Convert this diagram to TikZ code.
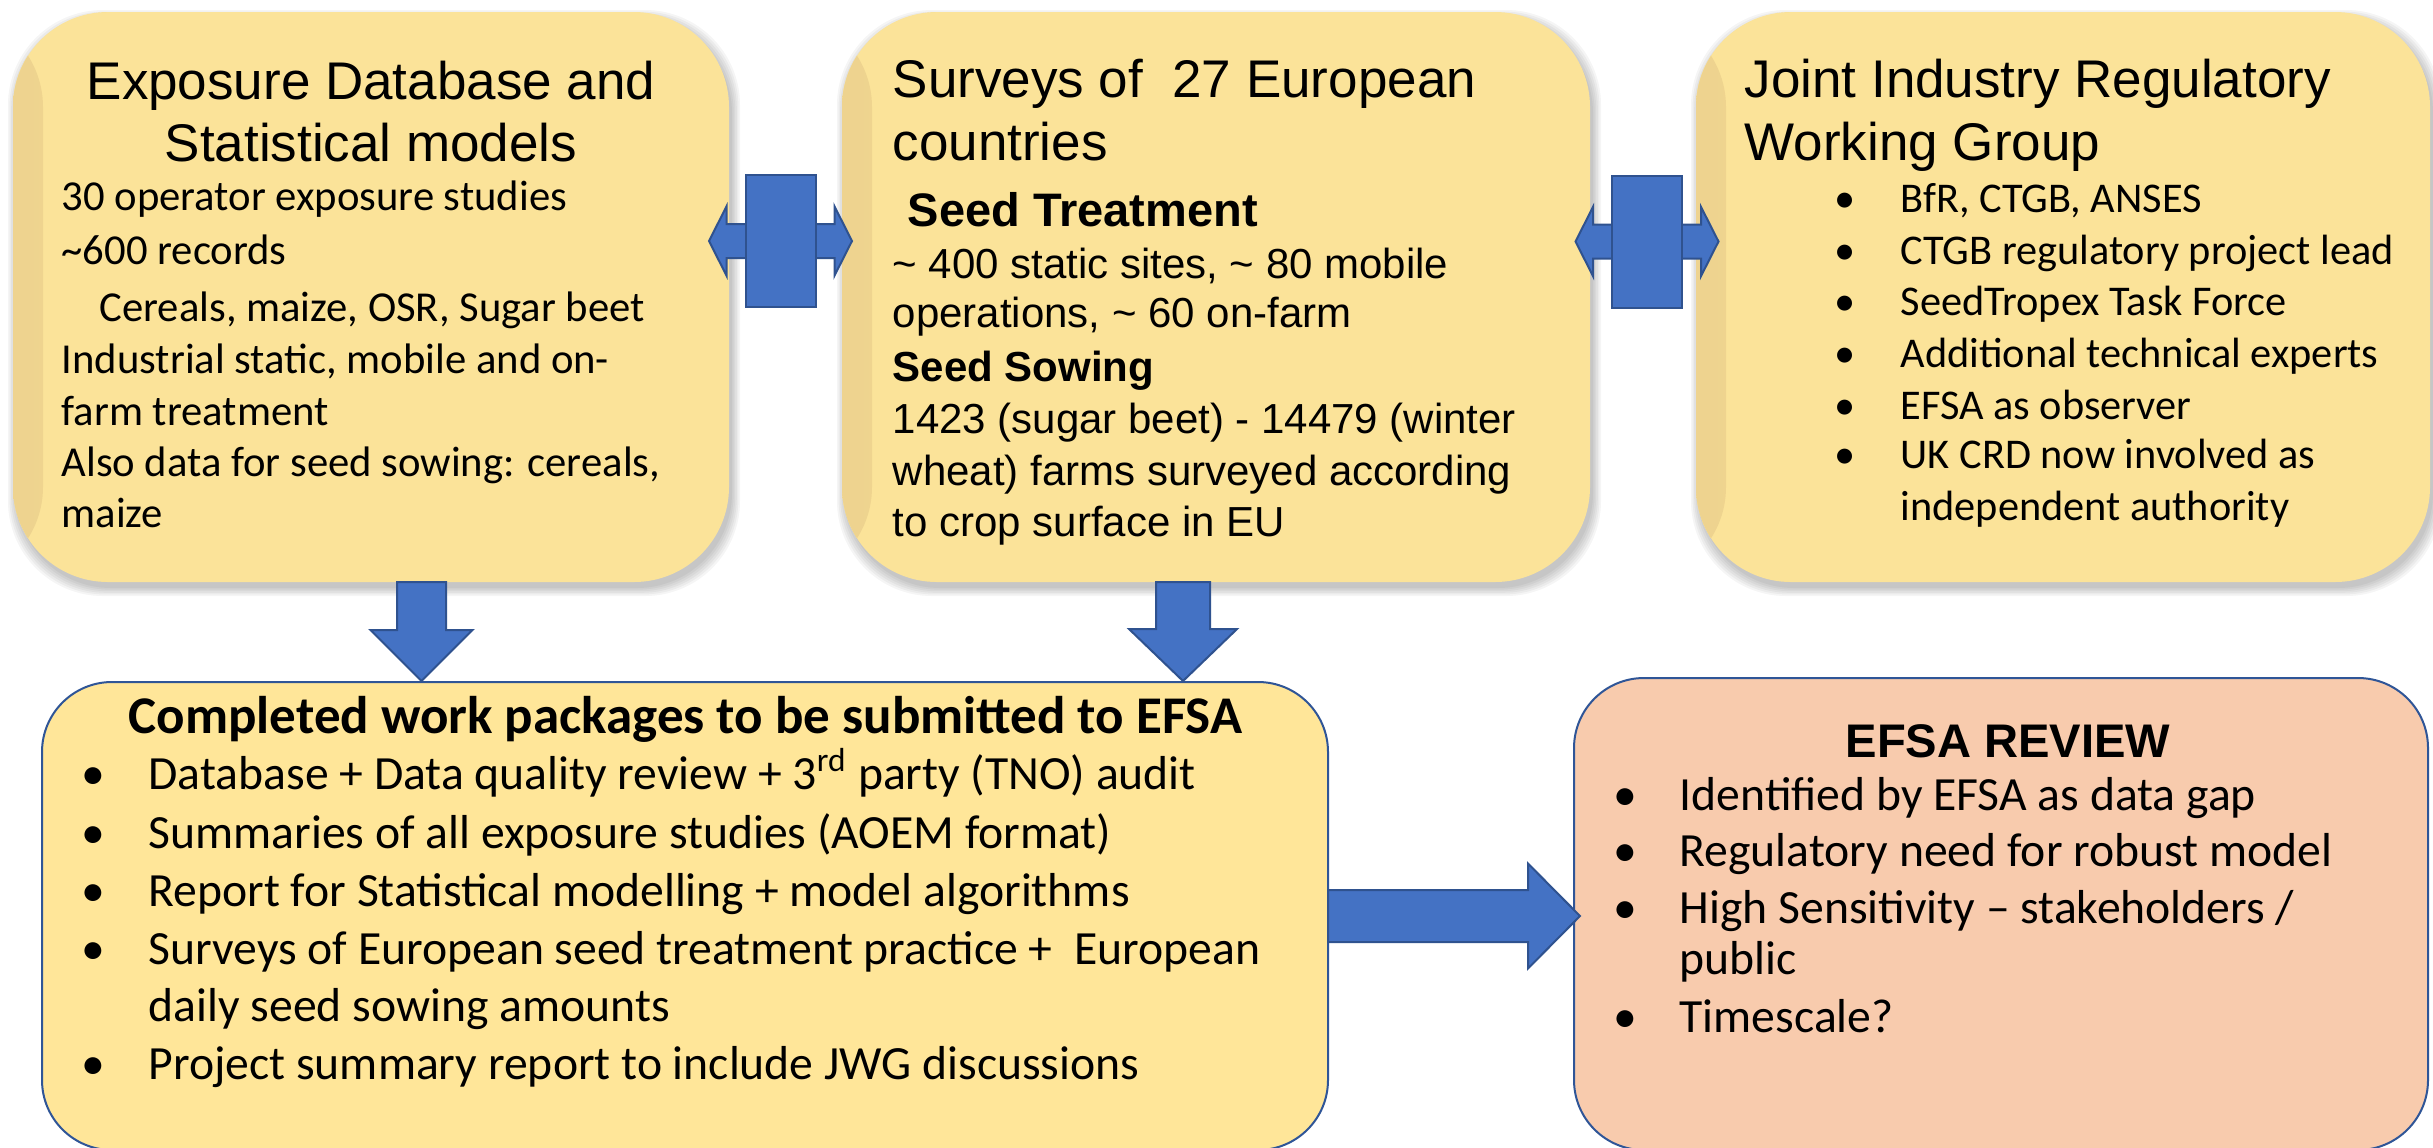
\documentclass[tikz,border=0pt]{standalone}
\usepackage{fontspec}
\setmainfont{Liberation Sans}
\newfontfamily\arialfont{Liberation Sans}
\newfontfamily\calfont{Carlito}
\usetikzlibrary{calc,fit}
\definecolor{topY}{RGB}{251,227,153}
\definecolor{edgeY}{RGB}{238,211,143}
\definecolor{botY}{RGB}{255,230,153}
\definecolor{salmonF}{RGB}{248,203,173}
\definecolor{arrB}{RGB}{68,114,196}
\definecolor{arrD}{RGB}{47,82,143}
\definecolor{bordB}{RGB}{47,85,151}

\newcommand\softshadow[4]{%
  \foreach \k in {0,...,5}{%
    \fill[black,opacity=0.04,rounded corners=28.5pt]
      (#1+3-\k*1.6,#2+6-\k*1.6) rectangle (#3+3+\k*1.6,#4+6+\k*1.6);}}

% vertical block arrow from (#1) down to (#2); shaft half #3, head half #4, head length #5
\newcommand\downblock[5]{%
  \draw[blockarrow] ($(#1)+(-#3,0)$) -- ($(#1)+(#3,0)$) -- ($(#2)+(#3,-#5)$)
    -- ($(#2)+(#4,-#5)$) -- (#2) -- ($(#2)+(-#4,-#5)$) -- ($(#2)+(-#3,-#5)$) -- cycle;}
% horizontal block arrow from (#1) right to (#2)
\newcommand\rightblock[5]{%
  \draw[blockarrow] ($(#1)+(0,-#3)$) -- ($(#2)+(-#5,-#3)$) -- ($(#2)+(-#5,-#4)$)
    -- (#2) -- ($(#2)+(-#5,#4)$) -- ($(#2)+(-#5,#3)$) -- ($(#1)+(0,#3)$) -- cycle;}
% cross shaped left-right arrow centred on (#1)
\newcommand\crossblock[1]{%
  \draw[blockarrow] ($(#1)+(-71.5,0)$) -- ($(#1)+(-54,-34.6)$) -- ($(#1)+(-54,-17)$)
    -- ($(#1)+(54,-17)$) -- ($(#1)+(54,-34.6)$) -- ($(#1)+(71.5,0)$)
    -- ($(#1)+(54,34.6)$) -- ($(#1)+(54,17)$) -- ($(#1)+(-54,17)$)
    -- ($(#1)+(-54,34.6)$) -- cycle;
  \draw[blockarrow] ($(#1)+(-35,-66)$) rectangle ($(#1)+(35,66)$);}

\begin{document}
\begin{tikzpicture}[x=0.3pt,y=-0.3pt,
  topbox/.style={inner sep=0pt,outer sep=0pt,rounded corners=28.5pt,fill=topY,
    path picture={\fill[left color=edgeY,right color=topY]
      ($(path picture bounding box.north west)+(-2,0)$) rectangle
      ($(path picture bounding box.south west)+(30,0)$);}},
  lowbox/.style={inner sep=0pt,outer sep=0pt,rounded corners=21pt,draw=bordB,line width=0.6pt},
  blockarrow/.style={fill=arrB,draw=arrD,line width=0.6pt,line join=miter},
  ttl/.style={inner sep=0pt,font=\arialfont\fontsize{15.9}{19}\selectfont},
  tl/.style={ttl,anchor=base west},
  tc/.style={ttl,anchor=base},
  cA/.style={inner sep=0pt,anchor=base west,font=\calfont\fontsize{12.8}{15}\selectfont},
  aB/.style={inner sep=0pt,anchor=base west,font=\arialfont\fontsize{12.6}{15}\selectfont},
  cC/.style={inner sep=0pt,anchor=base west,font=\calfont\fontsize{12.7}{15}\selectfont},
  bC/.style={inner sep=0pt,anchor=base,font=\calfont\fontsize{12.7}{15}\selectfont},
  cD/.style={inner sep=0pt,anchor=base west,font=\calfont\fontsize{14.3}{17}\selectfont},
  bD/.style={inner sep=0pt,anchor=base,font=\calfont\fontsize{14.3}{17}\selectfont},
]
\useasboundingbox (0,0) rectangle (2433,1147);
\fill[white] (0,0) rectangle (2433,1147);

% shadows of the top boxes
\softshadow{13}{12}{729}{582}
\softshadow{842}{12}{1590}{582}
\softshadow{1696}{12}{2430}{582}

% boxes
\node[topbox,fit={(13,12) (729,582)}] (b1) {};
\node[topbox,fit={(842,12) (1590,582)}] (b2) {};
\node[topbox,fit={(1696,12) (2430,582)}] (b3) {};
\node[lowbox,fill=botY,fit={(42,682) (1328,1150)}] (b4) {};
\node[lowbox,fill=salmonF,fit={(1574,678) (2428,1150)}] (b5) {};

% connectors
\coordinate (x12) at (780.5,241);
\coordinate (x23) at (1647,241.5);
\crossblock{x12}
\crossblock{x23}
\coordinate (d1s) at (421.5,582);
\coordinate (d1e) at (421.5,681);
\coordinate (d2s) at (1183,582);
\coordinate (d2e) at (1183,681);
\downblock{d1s}{d1e}{24.5}{51}{51}
\downblock{d2s}{d2e}{27}{54}{52}
\coordinate (r1s) at (b4.east |- 0,916);
\coordinate (r1e) at (1580,916);
\rightblock{r1s}{r1e}{26}{52.5}{52}

% box 1 text
\node[tc] (t1a) at (371,99.5) {Exposure Database and};
\node[tc] (t1b) at (371,161) {Statistical models};
\node[cA] (b1l1) at (61,210.5) {30 operator exposure studies};
\node[cA] (b1l2) at (61,264) {\textasciitilde600 records};
\node[cA] (b1l3) at (99,321.5) {Cereals, maize, OSR, Sugar beet};
\node[cA] (b1l4) at (61,373) {Industrial static, mobile and on-};
\node[cA] (b1l5) at (61,425) {farm treatment};
\node[cA] (b1l6) at (61,476.7) {Also data for seed sowing: cereals,};
\node[cA] (b1l7) at (61,527.7) {maize};

% box 2 text
\node[tl] (t2a) at (892,97.6) {Surveys of\ \ 27 European};
\node[tl] (t2b) at (892,160.7) {countries};
\node[inner sep=0pt,anchor=base west,font=\arialfont\bfseries\fontsize{14.1}{17}\selectfont] (b2l1) at (907,226.7) {Seed Treatment};
\node[aB] (b2l2) at (892,278) {\textasciitilde{} 400 static sites, \textasciitilde{} 80 mobile};
\node[aB] (b2l3) at (892,327) {operations, \textasciitilde{} 60 on-farm};
\node[aB,font=\arialfont\bfseries\fontsize{12.6}{15}\selectfont] (b2l4) at (892,381.5) {Seed Sowing};
\node[aB] (b2l5) at (892,433) {1423 (sugar beet) - 14479 (winter};
\node[aB] (b2l6) at (892,485) {wheat) farms surveyed according};
\node[aB] (b2l7) at (892,536.7) {to crop surface in EU};

% box 3 text
\node[tl] (t3a) at (1744,97.6) {Joint Industry Regulatory};
\node[tl] (t3b) at (1744,160.7) {Working Group};
\foreach \yy [count=\i] in {212.4,264,315.7,367.4,419,468.8}
  \node[bC] (b3d\i) at (1845,\yy) {\textbullet};
\node[cC] (b3l1) at (1900,212.4) {BfR, CTGB, ANSES};
\node[cC] (b3l2) at (1900,264) {CTGB regulatory project lead};
\node[cC] (b3l3) at (1900,315.7) {SeedTropex Task Force};
\node[cC] (b3l4) at (1900,367.4) {Additional technical experts};
\node[cC] (b3l5) at (1900,419) {EFSA as observer};
\node[cC] (b3l6) at (1900,468.8) {UK CRD now involved as};
\node[cC] (b3l7) at (1900,520.5) {independent authority};

% box 4 text
\node[inner sep=0pt,anchor=base,font=\calfont\bfseries\fontsize{15.9}{19}\selectfont] (t4) at (685.5,733) {Completed work packages to be submitted to EFSA};
\foreach \yy [count=\i] in {789,848,906,964,1079}
  \node[bD] (b4d\i) at (93,\yy) {\textbullet};
\node[cD] (b4l1) at (148,789) {Database + Data quality review + 3\textsuperscript{rd} party (TNO) audit};
\node[cD] (b4l2) at (148,848) {Summaries of all exposure studies (AOEM format)};
\node[cD] (b4l3) at (148,906) {Report for Statistical modelling + model algorithms};
\node[cD] (b4l4) at (148,964) {Surveys of European seed treatment practice +\ \ European};
\node[cD] (b4l5) at (148,1021) {daily seed sowing amounts};
\node[cD] (b4l6) at (148,1079) {Project summary report to include JWG discussions};

% box 5 text
\node[inner sep=0pt,anchor=base,font=\arialfont\bfseries\fontsize{14.15}{17}\selectfont] (t5) at (2008,757) {EFSA REVIEW};
\foreach \yy [count=\i] in {810,866.3,923,1032.8}
  \node[bD] (b5d\i) at (1625,\yy) {\textbullet};
\node[cD] (b5l1) at (1679,810) {Identified by EFSA as data gap};
\node[cD] (b5l2) at (1679,866.3) {Regulatory need for robust model};
\node[cD] (b5l3) at (1679,923) {High Sensitivity – stakeholders /};
\node[cD] (b5l4) at (1679,974.6) {public};
\node[cD] (b5l5) at (1679,1032.8) {Timescale?};
\end{tikzpicture}
\end{document}
